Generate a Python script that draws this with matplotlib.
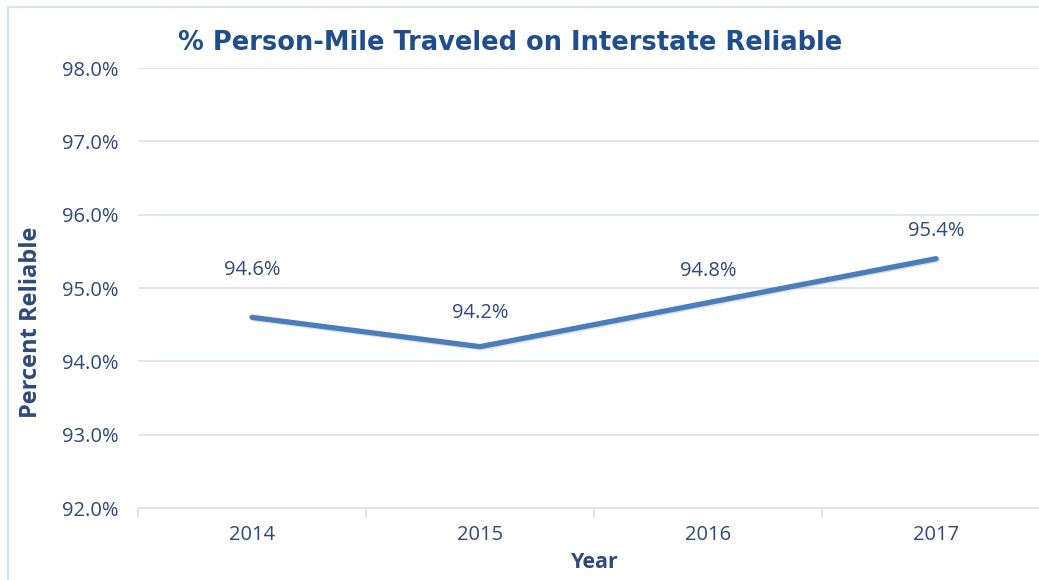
import matplotlib.pyplot as plt
import matplotlib.patheffects as pe
from matplotlib.patches import Rectangle

years = ['2014', '2015', '2016', '2017']
reliable = [94.6, 94.2, 94.8, 95.4]
yticks = [92, 93, 94, 95, 96, 97, 98]
# label offsets above the points (in points)
label_dy = [34, 24, 23, 20]

txt = '#2E4A7A'
grid = '#D6E2F2'
line = '#4A7EBB'

plt.rcParams['font.family'] = ['Open Sans', 'DejaVu Sans']

fig = plt.figure(figsize=(10.39, 5.8), dpi=100)
fig.patches.append(Rectangle((8/1039, -0.1), 1.2, 1 - 7/580 + 0.1, transform=fig.transFigure,
                             fill=False, edgecolor=grid, linewidth=1.5))

ax = fig.add_axes([138/1039, 72/580, 912/1039, 440/580])
x = range(len(years))
ax.plot(x, reliable, color=line, linewidth=3.8, solid_capstyle='round',
        path_effects=[pe.SimpleLineShadow(offset=(1, -1), alpha=0.12), pe.Normal()])

for i, v in enumerate(reliable):
    ax.annotate('%.1f%%' % v, (i, v), xytext=(0, label_dy[i]), textcoords='offset points',
                ha='center', va='center', fontsize=14.5, color=txt)

ax.set_xlim(-0.5, 3.5)
ax.set_ylim(92, 98)
ax.set_yticks(yticks)
ax.set_yticklabels(['%.1f%%' % t for t in yticks])
ax.set_xticks(x)
ax.set_xticklabels(years)
ax.set_xticks([-0.5, 0.5, 1.5, 2.5, 3.5], minor=True)
ax.tick_params(axis='x', which='major', length=0, pad=12, labelsize=14.5, labelcolor=txt)
ax.tick_params(axis='x', which='minor', length=7, color=grid, width=1.2)
ax.tick_params(axis='y', length=0, pad=14, labelsize=14.5, labelcolor=txt)
ax.grid(axis='y', color=grid, linewidth=1.2)
ax.set_axisbelow(True)
for s in ['top', 'right', 'left']:
    ax.spines[s].set_visible(False)
ax.spines['bottom'].set_color(grid)
ax.spines['bottom'].set_linewidth(1.2)

ax.set_ylabel('Percent Reliable', fontsize=17, fontweight='bold', color=txt)
ax.yaxis.set_label_coords(-0.104, 0.423)
fig.text(595/1039, 1 - 563/580, 'Year', ha='center', va='center', fontsize=15.5,
         fontweight='bold', color=txt)
fig.text(510/1039, 1 - 43/580, '% Person-Mile Traveled on Interstate Reliable', ha='center',
         va='center', fontsize=18.5, fontweight='heavy', color='#1F4E8C',
         family=['DejaVu Sans'])

fig.savefig('out.png', dpi=100)
